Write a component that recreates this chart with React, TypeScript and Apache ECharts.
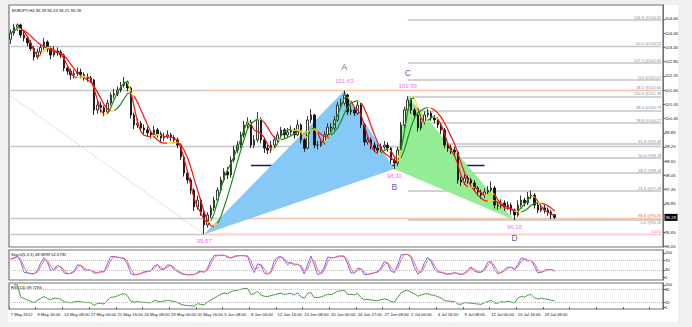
import React, { useEffect, useRef } from "react";
import * as echarts from "echarts";

const headerText = "EURJPY,H4 96.39 96.43 96.21 96.28";
const stochText = "Stoch(5,3,3) 48.9899 52.6792";
const rsiText = "RSI(14) 39.7294";

const firstOpen = 103.8;
const closes = [
  104.05, 104.3, 104.4, 103.97, 103.85, 103.64, 103.4, 103.05, 103.26, 103.45,
  103.68, 103.4, 103.13, 103.3, 103.26, 103.13, 102.58, 102.45, 102.29, 102.35,
  102.41, 102.3, 102.2, 102.16, 102.08, 100.81, 101.02, 100.9, 100.73, 101.1,
  101.44, 101.5, 101.65, 101.85, 101.99, 101.74, 100.6, 100.18, 100.25, 100.05,
  99.97, 99.85, 99.76, 99.97, 99.8, 99.63, 99.7, 99.76, 99.65, 99.55,
  99.33, 98.83, 98.15, 97.86, 97.43, 96.72, 97.01, 96.51, 95.96, 96.38,
  96.68, 97.01, 97.43, 97.86, 98.2, 98.07, 98.7, 99.12, 99.33, 99.76,
  100.18, 100.3, 99.33, 99.55, 100.4, 99.55, 99.2, 99.12, 99.33, 99.55,
  99.76, 99.97, 99.76, 99.88, 99.97, 99.76, 100.18, 99.55, 99.2, 100.39,
  100.6, 99.33, 99.33, 99.46, 99.76, 100.09, 100.05, 100.39, 101.02, 101.1,
  101.44, 100.73, 100.81, 100.68, 101.02, 100.18, 99.46, 99.55, 99.33, 99.2,
  99.12, 99.25, 99.33, 99.2, 98.7, 98.57, 99.12, 100.18, 100.81, 101.23,
  100.81, 100.6, 100.05, 100.3, 100.6, 100.68, 100.47, 100.39, 100.18, 99.97,
  99.33, 99.2, 99.12, 99.04, 97.86, 97.77, 97.94, 97.86, 97.73, 97.52,
  97.35, 97.22, 97.35, 97.43, 97.52, 96.8, 96.76, 96.89, 96.72, 96.8,
  96.59, 96.38, 96.8, 97.01, 96.89, 97.14, 97.22, 96.8, 96.59, 96.68,
  96.59, 96.51, 96.39, 96.28,
];
const highs = [
  104.2, 104.45, 104.46, 104.45, 104.1, 103.95, 103.75, 103.5, 103.4, 103.6,
  103.85, 103.75, 103.5, 103.5, 103.45, 103.35, 103.2, 102.7, 102.55, 102.5,
  102.6, 102.55, 102.4, 102.35, 102.25, 102.12, 101.2, 101.15, 101.0, 101.25,
  101.55, 101.7, 101.8, 102.0, 102.2, 102.05, 101.8, 100.7, 100.45, 100.35,
  100.2, 100.1, 99.95, 100.15, 100.05, 99.9, 99.85, 99.95, 99.85, 99.75,
  99.65, 99.4, 98.9, 98.25, 97.95, 97.5, 97.2, 97.1, 96.6, 96.5,
  96.8, 97.15, 97.55, 98.0, 98.35, 98.4, 98.85, 99.3, 99.5, 99.9,
  100.35, 100.5, 100.4, 99.75, 100.72, 100.5, 99.65, 99.35, 99.5, 99.7,
  99.9, 100.1, 100.05, 100.05, 100.15, 100.05, 100.4, 100.25, 99.65, 100.55,
  100.85, 100.65, 99.5, 99.6, 99.9, 100.25, 100.25, 100.55, 101.15, 101.3,
  101.63, 101.5, 101.0, 100.95, 101.2, 101.1, 100.25, 99.75, 99.65, 99.45,
  99.35, 99.4, 99.5, 99.45, 99.25, 98.8, 99.25, 100.3, 100.95, 101.39,
  101.3, 100.9, 100.7, 100.45, 100.75, 100.85, 100.75, 100.6, 100.5, 100.25,
  100.05, 99.45, 99.35, 99.25, 99.1, 98.0, 98.1, 98.05, 97.95, 97.85,
  97.6, 97.45, 97.5, 97.6, 97.8, 97.6, 96.95, 97.05, 97.0, 96.95,
  96.9, 96.65, 97.0, 97.2, 97.1, 97.35, 97.4, 97.3, 96.9, 96.85,
  96.8, 96.7, 96.6, 96.43,
];
const lows = [
  103.6, 103.95, 104.15, 103.85, 103.7, 103.5, 103.3, 102.9, 102.95, 103.15,
  103.35, 103.25, 102.95, 103.05, 103.1, 103.0, 102.45, 102.3, 102.1, 102.15,
  102.25, 102.15, 102.05, 102.0, 101.95, 100.6, 100.65, 100.7, 100.55, 100.65,
  101.0, 101.3, 101.4, 101.55, 101.75, 101.6, 100.45, 100.0, 100.05, 99.9,
  99.8, 99.7, 99.6, 99.65, 99.65, 99.45, 99.5, 99.6, 99.5, 99.4,
  99.2, 98.7, 98.0, 97.7, 97.25, 96.55, 96.6, 96.35, 95.57, 95.85,
  96.25, 96.55, 96.9, 97.3, 97.75, 97.9, 97.95, 98.6, 99.0, 99.2,
  99.65, 100.05, 99.2, 99.2, 99.45, 99.4, 99.0, 98.95, 99.0, 99.2,
  99.45, 99.65, 99.6, 99.65, 99.75, 99.6, 99.7, 99.4, 99.05, 99.15,
  100.25, 99.2, 99.15, 99.25, 99.35, 99.65, 99.9, 99.95, 100.3, 100.9,
  101.0, 100.6, 100.6, 100.55, 100.6, 100.05, 99.3, 99.35, 99.15, 99.05,
  98.95, 99.0, 99.15, 99.05, 98.55, 98.32, 98.45, 99.0, 100.05, 100.7,
  100.65, 100.45, 99.9, 99.95, 100.2, 100.5, 100.35, 100.25, 100.05, 99.8,
  99.2, 99.05, 98.95, 98.9, 97.7, 97.6, 97.65, 97.7, 97.55, 97.4,
  97.2, 97.05, 97.1, 97.25, 97.35, 96.65, 96.6, 96.65, 96.55, 96.6,
  96.4, 96.16, 96.3, 96.7, 96.75, 96.8, 97.05, 96.65, 96.45, 96.5,
  96.45, 96.35, 96.21, 96.21,
];

const totalSlots = 196;
const xTickLabels = [
  "7 May 2012", "9 May 16:00", "14 May 08:00", "17 May 00:00", "21 May 16:00",
  "24 May 08:00", "29 May 00:00", "31 May 16:00", "5 Jun 08:00", "8 Jun 00:00",
  "12 Jun 16:00", "15 Jun 08:00", "20 Jun 00:00", "24 Jun 17:00", "27 Jun 08:00",
  "2 Jul 00:00", "4 Jul 16:00", "9 Jul 08:00", "12 Jul 00:00", "16 Jul 16:00",
  "19 Jul 08:00",
];
const priceTicks = [
  95.05, 95.65, 96.85, 97.45, 98.05, 98.65, 99.25, 99.85, 100.45, 101.05,
  101.65, 102.25, 102.85, 103.45, 104.05, 104.65,
];
const priceMin = 95.03;
const priceMax = 105.24;
const lastPrice = 96.28;

const patternNames = ["X", "A", "B", "C", "D"];
const patternIdx = [58, 100, 115, 119, 151];
const patternPrice = [95.57, 101.63, 98.32, 101.39, 96.16];
const patternPriceText = ["95.57", "101.63", "98.32", "101.39", "96.16"];

const fibCDLevels = ["0.0", "23.6", "38.2", "50.0", "61.8", "78.6", "88.6", "100.0", "113", "127.2", "161.8"];
const fibCDPrices = [96.16, 97.39, 98.16, 98.78, 99.39, 100.27, 100.79, 101.39, 102.07, 102.81, 104.62];
const longLevels = ["50.0", "38.2", "", "", ""];
const longPrices = [103.51, 101.65, 99.3, 96.24, 95.57];
const xaLevels = ["0.0", "88.6", "100.0"];
const xaPrices = [101.63, 96.26, 95.57];
const trendLineStart = 101.4;
const bLinePrice = 98.46;
const bLineRange = [72, 142];

const stochLevels = [30, 70];
const stochTicks = [0, 30, 70, 100];
const rsiLevels = [20, 80];
const rsiTicks = [0, 20, 80, 100];

const FONT = "Liberation Sans";

function wma(src: number[], n: number): number[] {
  return src.map((_, i) => {
    const m = Math.min(n, i + 1);
    let s = 0, w = 0;
    for (let k = 0; k < m; k++) {
      const wt = m - k;
      s += src[i - k] * wt;
      w += wt;
    }
    return s / w;
  });
}
function hma(src: number[], n: number): number[] {
  const a = wma(src, Math.max(1, Math.round(n / 2)));
  const b = wma(src, n);
  const d = a.map((v, i) => 2 * v - b[i]);
  return wma(d, Math.max(1, Math.round(Math.sqrt(n))));
}
function splitBySlope(ma: number[]) {
  const n = ma.length;
  const red: (number | null)[] = Array(n).fill(null);
  const green: (number | null)[] = Array(n).fill(null);
  const yellow: (number | null)[] = Array(n).fill(null);
  let prev = 0;
  for (let i = 1; i < n; i++) {
    const s = ma[i] >= ma[i - 1] ? 1 : -1;
    const t = prev !== 0 && s !== prev ? yellow : s > 0 ? green : red;
    t[i - 1] = ma[i - 1];
    t[i] = ma[i];
    prev = s;
  }
  return { red, green, yellow };
}
function sma(src: (number | null)[], n: number): (number | null)[] {
  return src.map((_, i) => {
    let s = 0, c = 0;
    for (let k = 0; k < n && i - k >= 0; k++) {
      const v = src[i - k];
      if (v != null) { s += v; c++; }
    }
    return c ? s / c : null;
  });
}

export default function App() {
  const ref = useRef<HTMLDivElement>(null);
  useEffect(() => {
    if (!ref.current) return;
    const chart = echarts.init(ref.current, null, { renderer: "svg" });
    const opens = closes.map((_, i) => (i === 0 ? firstOpen : closes[i - 1]));
    const candles = closes.map((c, i) => [opens[i], c, lows[i], highs[i]]);
    const cats = Array.from({ length: totalSlots }, (_, i) => String(i));
    const lastIdx = totalSlots - 1;

    const fast = splitBySlope(hma(closes, 8));
    const slow = splitBySlope(hma(closes, 18));

    const kP = 3, slowing = 2, dP = 2;
    const num: number[] = [], den: number[] = [];
    closes.forEach((c, i) => {
      let hh = -Infinity, ll = Infinity;
      for (let k = 0; k < kP && i - k >= 0; k++) {
        hh = Math.max(hh, highs[i - k]);
        ll = Math.min(ll, lows[i - k]);
      }
      num.push(c - ll);
      den.push(hh - ll);
    });
    const stK = closes.map((_, i) => {
      let a = 0, b = 0;
      for (let k = 0; k < slowing && i - k >= 0; k++) { a += num[i - k]; b += den[i - k]; }
      return b ? (a / b) * 100 : 50;
    });
    const stD = sma(stK, dP);

    const rP = 7;
    const rsi: (number | null)[] = [];
    let ag = 0, al = 0;
    closes.forEach((c, i) => {
      if (i === 0) { rsi.push(null); return; }
      const ch = c - closes[i - 1];
      const g = Math.max(ch, 0), l = Math.max(-ch, 0);
      if (i <= rP) {
        ag += g / rP; al += l / rP;
      } else {
        ag = (ag * (rP - 1) + g) / rP;
        al = (al * (rP - 1) + l) / rP;
      }
      rsi.push(al === 0 ? 100 : 100 - 100 / (1 + ag / al));
    });

    const grids = [
      { left: 9, top: 5, width: 654, height: 242 },
      { left: 9, top: 250, width: 654, height: 30 },
      { left: 9, top: 283, width: 654, height: 26 },
    ].map((g) => ({ ...g, show: true, borderColor: "#707070", borderWidth: 1.2, backgroundColor: "transparent" }));

    const xAxes = [0, 1, 2].map((gi) => ({
      type: "category",
      gridIndex: gi,
      data: cats,
      boundaryGap: true,
      axisLine: { show: false },
      axisTick: gi === 2 ? { show: true, interval: 7, length: 2, lineStyle: { color: "#555" } } : { show: false },
      axisLabel:
        gi === 2
          ? {
              show: true,
              interval: 7,
              align: "left",
              fontSize: 4.2,
              fontFamily: FONT,
              color: "#111",
              margin: 3,
              formatter: (_v: string, idx: number) => xTickLabels[idx / 8] ?? "",
            }
          : { show: false },
      splitLine: { show: false },
    }));

    const yCommon = {
      position: "right",
      axisLine: { show: true, lineStyle: { color: "#707070" } },
      axisTick: { show: true, length: 2, lineStyle: { color: "#555" } },
      splitLine: { show: false },
      scale: true,
    };
    const yAxes = [
      {
        ...yCommon, gridIndex: 0, min: priceMin, max: priceMax,
        axisTick: { ...yCommon.axisTick, customValues: priceTicks },
        axisLabel: { customValues: priceTicks, fontSize: 4.2, fontFamily: FONT, color: "#111", margin: 2, formatter: (v: number) => v.toFixed(2) },
      },
      {
        ...yCommon, gridIndex: 1, min: -12, max: 112,
        axisTick: { ...yCommon.axisTick, customValues: stochTicks },
        axisLabel: { customValues: stochTicks, fontSize: 4.2, fontFamily: FONT, color: "#111", margin: 2 },
      },
      {
        ...yCommon, gridIndex: 2, min: -8, max: 108,
        axisTick: { ...yCommon.axisTick, customValues: rsiTicks },
        axisLabel: { customValues: rsiTicks, fontSize: 4.2, fontFamily: FONT, color: "#111", margin: 2 },
      },
    ];

    const fibLabel = (text: string, color: string, below = false) => ({
      show: !!text,
      position: below ? "insideEndBottom" : "insideEndTop",
      formatter: text,
      fontSize: 4,
      fontFamily: FONT,
      color,
      distance: [0, 0.5],
    });
    const solid = (color: string, width: number) => ({ color, width, type: "solid" });
    const markLines: any[] = [];
    fibCDPrices.forEach((p, k) => {
      markLines.push([
        { coord: [patternIdx[3], p], lineStyle: solid("#c0c4c8", 1.7), label: fibLabel(`${fibCDLevels[k]} @${p.toFixed(2)}`, "#8a8a8a", k === 0) },
        { coord: [lastIdx, p] },
      ]);
    });
    longPrices.forEach((p, k) => {
      markLines.push([
        { coord: [0, p], lineStyle: solid("#c4c8cc", 1.4), label: fibLabel(longLevels[k] ? `${longLevels[k]} @${p.toFixed(2)}` : "", "#8a8a8a") },
        { coord: [lastIdx, p] },
      ]);
    });
    xaPrices.forEach((p, k) => {
      const col = k === 2 ? "#ffc8d0" : "#f7c4ae";
      markLines.push([
        { coord: [patternIdx[0], p], lineStyle: solid(col, 1), label: fibLabel(k === 0 ? "" : k === 1 ? `${xaLevels[k]} @${p.toFixed(2)}` : xaLevels[k], k === 2 ? "#f08090" : "#e07040") },
        { coord: [lastIdx, p] },
      ]);
    });
    markLines.push([
      { coord: [0, trendLineStart], lineStyle: { color: "#e4b8b8", width: 1, type: "dotted" }, label: { show: false } },
      { coord: [patternIdx[0], patternPrice[0]] },
    ]);
    markLines.push([
      { coord: [bLineRange[0], bLinePrice], lineStyle: solid("#101a78", 1.4), label: { show: false } },
      { coord: [bLineRange[1], bLinePrice] },
    ]);

    const maSeries = (data: (number | null)[], color: string, z: number) => ({
      type: "line", data, xAxisIndex: 0, yAxisIndex: 0, showSymbol: false, symbol: "none",
      connectNulls: false, lineStyle: { color, width: 1.2 }, z, silent: true,
    });

    const triangle = (pts: number[], fill: string) => ({
      type: "custom",
      xAxisIndex: 0,
      yAxisIndex: 0,
      z: 1,
      silent: true,
      data: [0],
      renderItem: (_params: any, api: any) => ({
        type: "polygon",
        shape: { points: pts.map((k) => api.coord([patternIdx[k], patternPrice[k]])) },
        style: { fill, stroke: "none" },
      }),
    });

    const above = (k: number) => k === 1 || k === 3;
    const labelData: any[] = [];
    patternNames.forEach((name, k) => {
      const up = above(k);
      labelData.push({
        value: [patternIdx[k], patternPrice[k]],
        label: { show: true, formatter: patternPriceText[k], position: up ? "top" : "bottom", distance: up ? 7 : 4, fontSize: 6, fontFamily: FONT, color: "#ff33ff" },
      });
      if (name !== "X") {
        labelData.push({
          value: [patternIdx[k], patternPrice[k]],
          label: { show: true, formatter: name, position: up ? "top" : "bottom", distance: up ? 19 : 13, fontSize: 8.5, fontFamily: FONT, color: "#27308c" },
        });
      }
    });

    const texts = [
      { type: "text", left: 12, top: 8, style: { text: headerText, fontSize: 4.2, fontFamily: FONT, fill: "#111" } },
      { type: "text", left: 11, top: 252, style: { text: stochText, fontSize: 4.2, fontFamily: FONT, fill: "#111" } },
      { type: "text", left: 11, top: 285, style: { text: rsiText, fontSize: 4.2, fontFamily: FONT, fill: "#111" } },
    ];

    const option: any = {
      animation: false,
      backgroundColor: "transparent",
      grid: grids,
      xAxis: xAxes,
      yAxis: yAxes,
      series: [
        triangle([0, 1, 2], "#86c8f6"),
        triangle([2, 3, 4], "#94ec94"),
        {
          type: "candlestick", xAxisIndex: 0, yAxisIndex: 0, data: candles, barWidth: 2, z: 3,
          itemStyle: { color: "#ffffff", color0: "#111111", borderColor: "#222222", borderColor0: "#111111", borderWidth: 0.9 },
          markLine: { symbol: ["none", "none"], silent: true, z: 0, data: markLines },
        },
        maSeries(slow.red, "#ff1010", 4),
        maSeries(slow.green, "#149014", 4),
        maSeries(slow.yellow, "#f0e020", 5),
        maSeries(fast.red, "#ff1010", 4),
        maSeries(fast.green, "#149014", 4),
        maSeries(fast.yellow, "#f0e020", 5),
        {
          type: "scatter", xAxisIndex: 0, yAxisIndex: 0, symbolSize: 0, data: labelData, z: 6, silent: true,
        },
        {
          type: "line", xAxisIndex: 1, yAxisIndex: 1, data: stK, showSymbol: false, symbol: "none",
          lineStyle: { color: "#6a6aff", width: 1 }, z: 3,
          markLine: {
            symbol: ["none", "none"], silent: true, label: { show: false },
            lineStyle: { color: "#bdbdbd", type: "dotted", width: 1 },
            data: stochLevels.map((v) => ({ yAxis: v })),
          },
        },
        {
          type: "line", xAxisIndex: 1, yAxisIndex: 1, data: stD, showSymbol: false, symbol: "none",
          lineStyle: { color: "#ff6a6a", width: 1 }, z: 4,
        },
        {
          type: "line", xAxisIndex: 2, yAxisIndex: 2, data: rsi, showSymbol: false, symbol: "none",
          lineStyle: { color: "#4f944f", width: 1 }, z: 3,
          markLine: {
            symbol: ["none", "none"], silent: true, label: { show: false },
            lineStyle: { color: "#bdbdbd", type: "dotted", width: 1 },
            data: rsiLevels.map((v) => ({ yAxis: v })),
          },
        },
      ],
      graphic: texts,
    };
    chart.setOption(option);

    const yPx = chart.convertToPixel({ xAxisIndex: 0, yAxisIndex: 0 } as any, [0, lastPrice]) as number[];
    const py = yPx[1];
    chart.setOption({
      graphic: [
        ...texts,
        { type: "rect", shape: { x: 664.5, y: py - 3.5, width: 13, height: 7 }, style: { fill: "#000" }, z: 20 },
        { type: "text", x: 665.5, y: py, style: { text: lastPrice.toFixed(2), fontSize: 4.2, fontFamily: FONT, fill: "#fff", verticalAlign: "middle" }, z: 21 },
      ],
    });

    return () => chart.dispose();
  }, []);

  return (
    <div style={{ position: "fixed", left: 0, top: 0, width: 692, height: 327, background: "#f0f0f0" }}>
      <div style={{ position: "absolute", left: 8, top: 5, width: 670, height: 317, background: "#ffffff" }} />
      <div ref={ref} style={{ position: "absolute", left: 0, top: 0, width: 692, height: 327 }} />
    </div>
  );
}
